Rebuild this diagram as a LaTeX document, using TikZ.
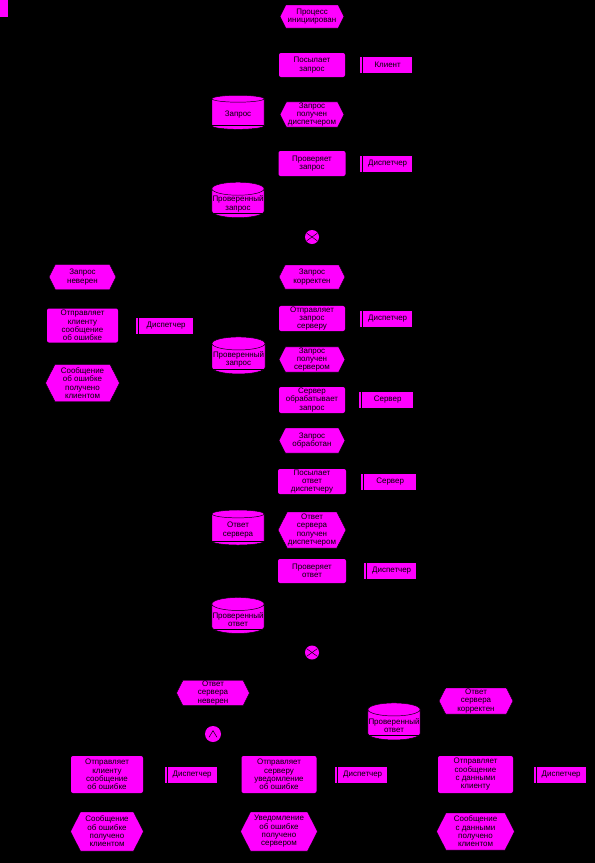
\documentclass[tikz,border=0pt]{standalone}
\usepackage{fontspec}
\newfontfamily\epcfont{Liberation Sans}
\usetikzlibrary{shapes,shapes.geometric,shapes.symbols,positioning}
\definecolor{epcpink}{RGB}{255,0,255}
\newcommand{\epctext}{\epcfont\fontsize{6.8}{7.1}\selectfont}

\begin{document}
\begin{tikzpicture}[
    on grid,
    wh/.style 2 args={minimum width=#1cm, minimum height=#2cm},
    event/.style={signal, signal to=east and west, signal pointer angle=126, fill=epcpink, draw=black, inner sep=0.5pt, align=center, font=\epctext},
    func/.style={rectangle, rounded corners=0.06cm, fill=epcpink, inner sep=0.5pt, align=center, font=\epctext},
    role/.style={rectangle, fill=epcpink, inner sep=0.5pt, minimum width=1.56cm, minimum height=0.48cm, font=\epctext,
        path picture={\draw[black, line width=0.03cm] ([xshift=0.075cm]path picture bounding box.north west) -- ([xshift=0.075cm]path picture bounding box.south west);}},
    data/.style={cylinder, shape border rotate=90, aspect=0.25, fill=epcpink, draw=black, inner sep=0.5pt, align=center, font=\epctext,
        path picture={\draw[black, line width=0.03cm] ([yshift=0.12cm]path picture bounding box.south west) -- ([yshift=0.12cm]path picture bounding box.south east);}},
    xorop/.style={circle, fill=epcpink, minimum size=0.42cm, inner sep=0pt,
        path picture={\draw[black, thin] ([shift={(-0.16cm,-0.115cm)}]path picture bounding box.center) -- ([shift={(0.16cm,0.115cm)}]path picture bounding box.center);
                      \draw[black, thin] ([shift={(-0.16cm,0.115cm)}]path picture bounding box.center) -- ([shift={(0.16cm,-0.115cm)}]path picture bounding box.center);}},
    andop/.style={circle, fill=epcpink, minimum size=0.48cm, inner sep=0pt,
        path picture={\draw[black, thin] ([shift={(-0.12cm,-0.1cm)}]path picture bounding box.center) -- ([shift={(0cm,0.1cm)}]path picture bounding box.center) -- ([shift={(0.12cm,-0.1cm)}]path picture bounding box.center);}}
]
% page
\fill[black] (0,0) rectangle (17.85,-25.89);
\useasboundingbox (0,0) rectangle (17.85,-25.89);
\fill[epcpink] (0,0) rectangle (0.24,-0.51);

% Main column
\node[event, wh={1.92}{0.69}] (start) at (9.36,-0.495) {Процесс\\инициирован};
\node[func, wh={1.98}{0.72}, below=1.455cm of start] (sendreq) {Посылает\\запрос};
\node[event, wh={1.92}{0.75}, below=1.485cm of sendreq] (reqdisp) {Запрос\\получен\\диспетчером};
\node[func, wh={2.01}{0.75}, below=1.47cm of reqdisp] (checkreq) {Проверяет\\запрос};
\node[xorop, below=2.205cm of checkreq] (xorreq) {};
\node[event, wh={1.98}{0.72}, below=1.2cm of xorreq] (reqok) {Запрос\\корректен};
\node[func, wh={1.98}{0.75}, below=1.245cm of reqok] (fwdreq) {Отправляет\\запрос\\серверу};
\node[event, wh={1.98}{0.75}, below=1.23cm of fwdreq] (reqsrv) {Запрос\\получен\\сервером};
\node[func, wh={1.98}{0.78}, below=1.215cm of reqsrv] (procreq) {Сервер\\обрабатывает\\запрос};
\node[event, wh={1.98}{0.75}, below=1.215cm of procreq] (reqdone) {Запрос\\обработан};
\node[func, wh={2.04}{0.75}, below=1.23cm of reqdone] (sendans) {Посылает\\ответ\\диспетчеру};
\node[event, wh={2.04}{1.08}, below=1.455cm of sendans] (ansdisp) {Ответ\\сервера\\получен\\диспетчером};
\node[func, wh={2.04}{0.72}, below=1.23cm of ansdisp] (checkans) {Проверяет\\ответ};
\node[xorop, below=2.445cm of checkans] (xorans) {};

% Roles
\node[role, right=2.22cm of sendreq] (rclient) {\hspace{0.1cm}Клиент};
\node[role, right=2.22cm of checkreq] (rdisp1) {\hspace{0.1cm}Диспетчер};
\node[role, right=2.22cm of fwdreq] (rdisp2) {\hspace{0.1cm}Диспетчер};
\node[role, minimum width=1.62cm, right=2.22cm of procreq] (rsrv1) {\hspace{0.1cm}Сервер};
\node[role, minimum width=1.65cm, right=2.295cm of sendans] (rsrv2) {\hspace{0.1cm}Сервер};
\node[role, right=2.34cm of checkans] (rdisp3) {\hspace{0.1cm}Диспетчер};

% Data
\node[data, wh={1.56}{1.02}, left=2.22cm of reqdisp] (dreq) {Запрос};
\node[data, wh={1.56}{1.05}, below=2.685cm of dreq] (dchk1) {Проверенный\\запрос};
\node[data, wh={1.59}{1.11}, left=2.205cm of reqsrv] (dchk2) {Проверенный\\запрос};
\node[data, wh={1.56}{1.05}, left=2.22cm of ansdisp] (dans) {Ответ\\сервера};
\node[data, wh={1.56}{1.08}, below=2.685cm of dans] (dchk3) {Проверенный\\ответ};

% Wrong request branch
\node[event, wh={2.01}{0.75}, left=6.885cm of reqok] (reqbad) {Запрос\\неверен};
\node[func, wh={2.13}{1.02}, below=1.455cm of reqbad] (errclient1) {Отправляет\\клиенту\\сообщение\\об ошибке};
\node[role, minimum width=1.71cm, right=2.46cm of errclient1] (rdisp4) {\hspace{0.1cm}Диспетчер};
\node[event, wh={2.22}{1.11}, below=1.725cm of errclient1] (errgot1) {Сообщение\\об ошибке\\получено\\клиентом};

% Answer branches
\node[event, wh={2.19}{0.72}] (ansbad) at (6.39,-20.79) {Ответ\\сервера\\неверен};
\node[andop, below=1.23cm of ansbad] (andans) {};
\node[event, wh={2.22}{0.78}] (ansok) at (14.28,-21.03) {Ответ\\сервера\\корректен};
\node[data, wh={1.56}{1.11}] (dchk4) at (11.82,-21.765) {Проверенный\\ответ};

\node[func, wh={2.16}{1.11}] (errclient2) at (3.21,-23.235) {Отправляет\\клиенту\\сообщение\\об ошибке};
\node[role, right=2.505cm of errclient2] (rdisp5) {\hspace{0.1cm}Диспетчер};
\node[event, wh={2.19}{1.17}, below=1.71cm of errclient2] (errgot2) {Сообщение\\об ошибке\\получено\\клиентом};

\node[func, wh={2.25}{1.11}] (errsrv) at (8.37,-23.235) {Отправляет\\серверу\\уведомление\\об ошибке};
\node[role, right=2.46cm of errsrv] (rdisp6) {\hspace{0.1cm}Диспетчер};
\node[event, wh={2.31}{1.17}, below=1.71cm of errsrv] (errgot3) {Уведомление\\об ошибке\\получено\\сервером};

\node[func, wh={2.25}{1.11}] (dataclient) at (14.265,-23.235) {Отправляет\\сообщение\\с данными\\клиенту};
\node[role, right=2.52cm of dataclient] (rdisp7) {\hspace{0.1cm}Диспетчер};
\node[event, wh={2.34}{1.11}, below=1.71cm of dataclient] (datagot) {Сообщение\\с данными\\получено\\клиентом};

\end{tikzpicture}
\end{document}
